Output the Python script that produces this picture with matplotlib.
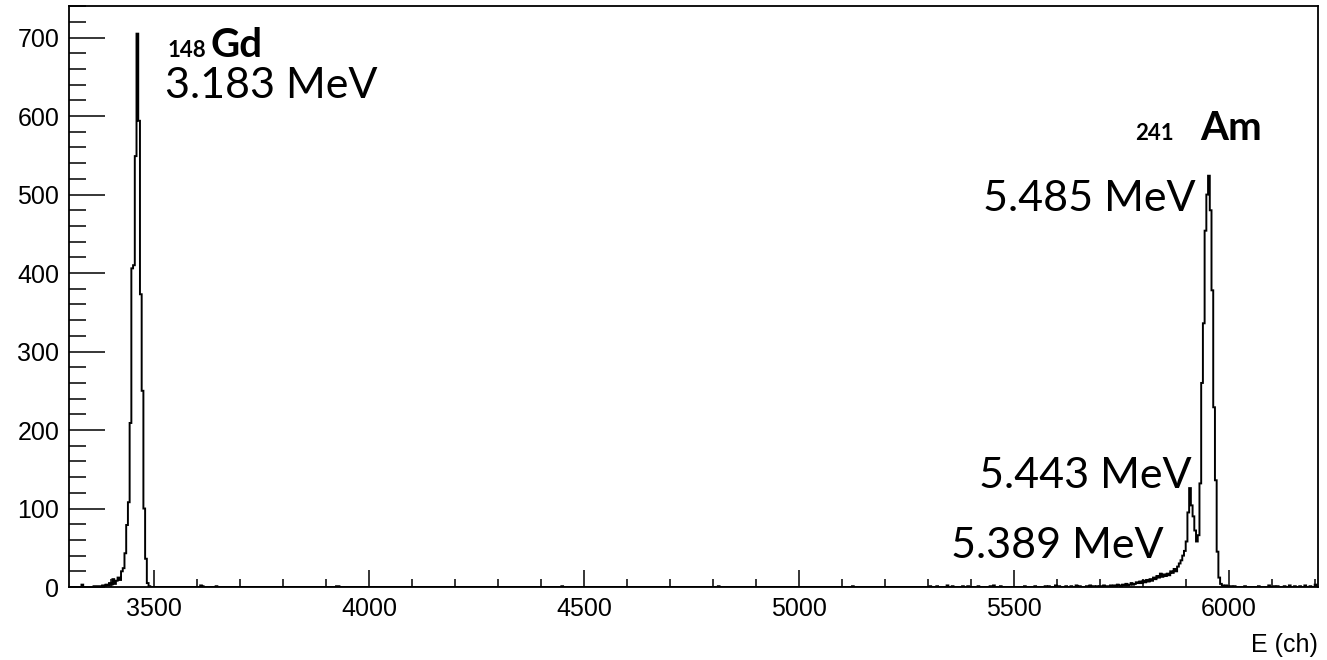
"""Alpha spectrum (148Gd + 241Am) drawn as a ROOT-style step histogram."""

import matplotlib

matplotlib.use("Agg")

import matplotlib.pyplot as plt
import numpy as np
from matplotlib.ticker import MultipleLocator

# binning of the spectrum (channels)
BIN_LO = 3303
BIN_W = 4
N_BINS = 726

# 148Gd peak, consecutive bins starting at GD_START
GD_START = 3331
GD_COUNTS = [3, 0, 0, 0, 0, 0, 0, 1, 1, 1, 1, 1, 2, 1, 3, 2, 5, 3, 10, 4,
             8, 12, 9, 20, 24, 43, 79, 108, 209, 406, 410, 549, 705, 594,
             373, 250, 100, 36, 5, 1]

# 241Am group (5.389 / 5.443 / 5.485 MeV), consecutive bins from AM_START
AM_START = 5699
AM_COUNTS = [1, 0, 2, 1, 1, 0, 2, 1, 2, 1, 3, 2, 1, 3, 2, 4, 2, 3, 5, 3,
             4, 6, 5, 7, 5, 8, 6, 9, 7, 10, 8, 12, 10, 14, 12, 17, 13, 16,
             14, 17, 15, 20, 18, 23, 20, 26, 30, 34, 40, 46, 58, 95, 126,
             104, 90, 72, 58, 66, 132, 260, 336, 454, 500, 524, 480, 378,
             229, 136, 45, 12, 4, 2]

# sparse background counts
BKG_CH = [3607, 3611, 3643, 3923, 3927, 4447, 4811, 5123, 5303, 5319, 5343,
          5355, 5379, 5391, 5415, 5443, 5451, 5467, 5523, 5547, 5571, 5579,
          5595, 5603, 5619, 5631, 5643, 5651, 5667, 5675, 5683, 5691,
          5987, 5991, 5995, 6003, 6011, 6035, 6067, 6091, 6103, 6111, 6127,
          6139, 6151, 6163, 6175, 6187, 6199]
BKG_COUNTS = [2, 1, 1, 1, 1, 1, 1, 1, 1, 1, 2, 1, 1, 1, 1, 1, 2, 1, 1, 1,
              1, 1, 2, 1, 1, 1, 2, 1, 1, 2, 1, 1,
              1, 2, 1, 1, 1, 1, 1, 2, 1, 1, 1, 2, 1, 1, 2, 1, 3]

X_TICKS = [3500, 4000, 4500, 5000, 5500, 6000]
Y_TICKS = [0, 100, 200, 300, 400, 500, 600, 700]

# (text, x, y in axes fraction, horizontal alignment)
LINE_LABELS = [
    ("3.183 MeV", 0.0770, 0.842, "left"),
    ("5.485 MeV", 0.902, 0.647, "right"),
    ("5.443 MeV", 0.899, 0.170, "right"),
    ("5.389 MeV", 0.877, 0.050, "right"),
]


def build_counts():
    counts = np.zeros(N_BINS)
    for start, values in ((GD_START, GD_COUNTS), (AM_START, AM_COUNTS)):
        i0 = (start - BIN_LO) // BIN_W
        counts[i0:i0 + len(values)] = values
    for ch, c in zip(BKG_CH, BKG_COUNTS):
        counts[(ch - BIN_LO) // BIN_W] = c
    return counts


counts = build_counts()
edges = BIN_LO + BIN_W * np.arange(N_BINS + 1)

plt.rcParams["font.family"] = ["Liberation Sans", "DejaVu Sans"]
fig = plt.figure(figsize=(13.27, 6.6), dpi=100)
ax = fig.add_axes([0.052, 0.1106, 0.941, 0.880])

ax.stairs(counts, edges, color="black", linewidth=1.4)

ax.set_xlim(3302, 6206)
ax.set_ylim(0, 740)
ax.set_xticks(X_TICKS)
ax.set_yticks(Y_TICKS)
ax.xaxis.set_minor_locator(MultipleLocator(100))
ax.yaxis.set_minor_locator(MultipleLocator(20))
ax.tick_params(axis="both", which="both", direction="in", colors="black",
               labelsize=18, top=False, right=False)
ax.tick_params(axis="x", which="major", length=12, width=1.1, pad=7)
ax.tick_params(axis="x", which="minor", length=6, width=1.1)
ax.tick_params(axis="y", which="major", length=26, width=1.1, pad=7)
ax.tick_params(axis="y", which="minor", length=12, width=1.1)
for spine in ax.spines.values():
    spine.set_linewidth(1.3)

ax.set_xlabel("E (ch)", loc="right", fontsize=18, labelpad=9)

# nuclide tags and line energies
ann_font = "Lato"
ax.text(0.0793, 0.912, "148", transform=ax.transAxes, fontsize=16,
        fontweight="bold", family=ann_font, ha="left", va="baseline")
ax.text(0.1135, 0.912, "Gd", transform=ax.transAxes, fontsize=29,
        fontweight="bold", family=ann_font, ha="left", va="baseline")
ax.text(0.8537, 0.769, "241", transform=ax.transAxes, fontsize=16,
        fontweight="bold", family=ann_font, ha="left", va="baseline")
ax.text(0.9555, 0.769, "Am", transform=ax.transAxes, fontsize=29,
        fontweight="bold", family=ann_font, ha="right", va="baseline")
for text, x, y, ha in LINE_LABELS:
    ax.text(x, y, text, transform=ax.transAxes, fontsize=31,
            family=ann_font, ha=ha, va="baseline")

fig.savefig("out.png", dpi=100)
